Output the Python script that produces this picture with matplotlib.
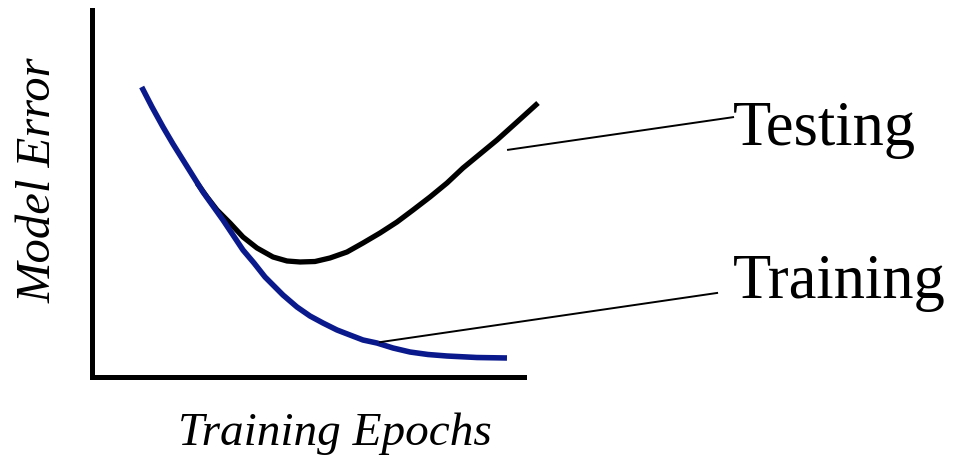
import matplotlib
matplotlib.use("Agg")
import matplotlib.pyplot as plt

# Data (arbitrary units)
train_epochs = [1.150, 1.389, 1.644, 1.875, 2.106, 2.338, 2.569, 2.801, 3.032, 3.264,
                3.495, 3.750, 4.005, 4.421, 4.745, 5.046, 5.347, 5.671, 5.972, 6.273,
                6.597, 6.968, 7.361, 7.778, 8.218, 8.912, 9.606]
train_error = [7.902, 7.357, 6.812, 6.349, 5.913, 5.477, 5.041, 4.659, 4.278, 3.869,
               3.460, 3.106, 2.725, 2.234, 1.907, 1.662, 1.471, 1.281, 1.144, 1.008,
               0.926, 0.790, 0.681, 0.613, 0.572, 0.531, 0.518]

test_epochs = [2.431, 2.662, 2.894, 3.194, 3.495, 3.819, 4.190, 4.514, 4.815, 5.162,
               5.509, 5.903, 6.273, 6.667, 7.060, 7.431, 7.824, 8.218, 8.588, 8.981,
               9.375, 9.838, 10.324]
test_error = [5.286, 4.905, 4.550, 4.196, 3.815, 3.515, 3.270, 3.161, 3.134, 3.147,
              3.243, 3.406, 3.651, 3.924, 4.223, 4.550, 4.905, 5.286, 5.695, 6.076,
              6.458, 6.948, 7.466]

labels = ["Testing", "Training"]
# leader line anchors (data coords): curve point -> label point
test_leader = ([9.63, 14.84], [6.19, 7.08])
train_leader = ([6.67, 14.47], [0.95, 2.29])

plt.rcParams['font.family'] = ['Liberation Serif', 'DejaVu Serif']

fig = plt.figure(figsize=(9.54, 4.55), dpi=100)
W, H = 954, 455
ax = fig.add_axes([92 / W, (H - 377) / H, 432 / W, 367 / H])
ax.set_xlim(0, 10)
ax.set_ylim(0, 10)

for s in ["top", "right"]:
    ax.spines[s].set_visible(False)
for s in ["left", "bottom"]:
    ax.spines[s].set_linewidth(3.6)
    ax.spines[s].set_color("black")
    ax.spines[s].set_capstyle("projecting")
ax.set_xticks([])
ax.set_yticks([])

blue = "#0a1a8c"
ax.plot(train_epochs, train_error, color=blue, lw=4.0, clip_on=False,
        solid_capstyle="butt", solid_joinstyle="round", zorder=2)
ax.plot(test_epochs, test_error, color="black", lw=3.8, clip_on=False,
        solid_capstyle="butt", solid_joinstyle="round", zorder=1)

ax.plot(*test_leader, color="black", lw=1.4, clip_on=False)
ax.plot(*train_leader, color="black", lw=1.4, clip_on=False)

ax.text(1.484, 0.632, labels[0], transform=ax.transAxes, fontsize=45, ha="left", va="baseline")
ax.text(1.484, 0.215, labels[1], transform=ax.transAxes, fontsize=45, ha="left", va="baseline")

ax.text(0.5625, -0.185, "Training Epochs", transform=ax.transAxes, fontsize=34,
        style="italic", ha="center", va="baseline")
fig.text(39 / W, 1 - 180 / H, "Model Error", fontsize=35, style="italic",
         rotation=90, ha="center", va="center")

fig.savefig("out.png", dpi=100, facecolor="white")
